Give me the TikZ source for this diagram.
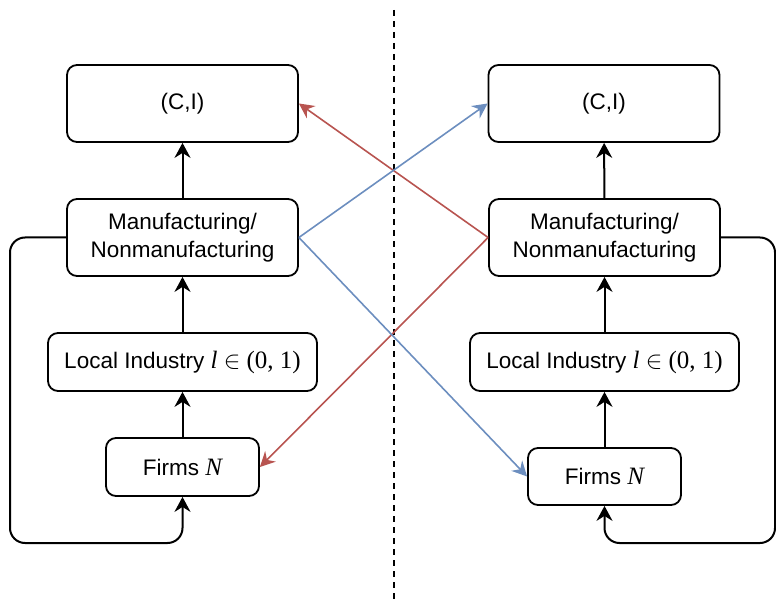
\documentclass[tikz,border=0pt]{standalone}
\usepackage{fontspec}
\setmainfont{Liberation Sans}
\newfontfamily\tmsfont{Liberation Serif}
\usetikzlibrary{arrows.meta}
\definecolor{redc}{HTML}{B85450}
\definecolor{bluec}{HTML}{6C8EBF}
\newcommand{\liexpr}{{\fontsize{25}{27}\selectfont\tmsfont\itshape l\/\upshape\ $\in$ (0, 1)}}
\newcommand{\nexpr}{{\fontsize{25}{27}\selectfont\tmsfont\itshape N}}
\begin{document}
\begin{tikzpicture}[x=1pt,y=-1pt,
  box/.style={draw,line width=1.8pt,rounded corners=10pt,inner sep=0pt,align=center,
    font=\fontsize{22.5}{27.5}\selectfont},
  arr/.style={line width=2pt,-{Stealth[length=15pt,width=16pt,inset=5pt]}},
  loopline/.style={arr,rounded corners=15pt},
  redarr/.style={arr,draw=redc,line width=1.6pt,-{Stealth[length=15pt,width=15pt,inset=5pt,fill=redc]}},
  bluearr/.style={arr,draw=bluec,line width=1.6pt,-{Stealth[length=15pt,width=15pt,inset=5pt,fill=bluec]}}]
\useasboundingbox (0,0) rectangle (776,601);
% left column
\node[box,minimum width=231pt,minimum height=77pt] (ciL) at (182.5,103.5) {(C,I)};
\node[box,minimum width=231pt,minimum height=77pt] (mL) at (182.5,237.5) {Manufacturing/\\Nonmanufacturing};
\node[box,minimum width=269pt,minimum height=58pt] (liL) at (182.5,362) {Local Industry \liexpr};
\node[box,minimum width=153pt,minimum height=58pt] (fL) at (182.5,467) {Firms \nexpr};
% right column
\node[box,minimum width=231pt,minimum height=77pt] (ciR) at (604,103.5) {(C,I)};
\node[box,minimum width=231pt,minimum height=77pt] (mR) at (604.5,237.5) {Manufacturing/\\Nonmanufacturing};
\node[box,minimum width=269pt,minimum height=58pt] (liR) at (604.5,362) {Local Industry \liexpr};
\node[box,minimum width=153pt,minimum height=57pt] (fR) at (604.5,476.5) {Firms \nexpr};
% vertical arrows
\draw[arr] (fL) -- (liL);
\draw[arr] (liL) -- (mL);
\draw[arr] (mL) -- (ciL);
\draw[arr] (fR) -- (liR);
\draw[arr] (liR) -- (mR);
\draw[arr] (mR) -- (ciR);
% loops
\coordinate (la) at (10,237.5);
\coordinate (lb) at (10,543);
\coordinate (lc) at (182.5,543);
\draw[loopline] (mL.west) -- (la) -- (lb) -- (lc) -- (fL.south);
\coordinate (ra) at (775,237.5);
\coordinate (rb) at (775,543);
\coordinate (rc) at (604.5,543);
\draw[loopline] (mR.east) -- (ra) -- (rb) -- (rc) -- (fR.south);
% divider
\coordinate (dt) at (394,10);
\coordinate (db) at (394,601);
\draw[line width=1.8pt,dash pattern=on 6pt off 5pt] (dt) -- (db);
% cross arrows
\draw[redarr] (mR.west) -- (ciL.east);
\draw[redarr] (mR.west) -- (fL.east);
\draw[bluearr] (mL.east) -- (ciR.west);
\draw[bluearr] (mL.east) -- (fR.west);
\end{tikzpicture}
\end{document}
